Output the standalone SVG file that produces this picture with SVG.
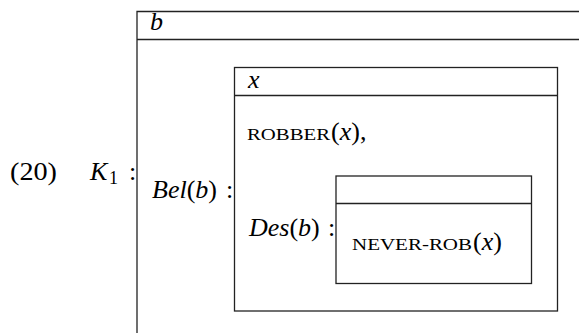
<svg xmlns="http://www.w3.org/2000/svg" width="579" height="333" viewBox="0 0 579 333">
<style>
  .ln{fill:none;stroke:#222;stroke-width:1.3}
  .t{font-family:"Liberation Serif","Times New Roman",serif;font-size:26px;fill:#000}
  .i{font-style:italic}
  .sc{font-size:17.5px}
  .sub{font-size:18px}
</style>
<rect width="579" height="333" fill="#fff"/>
<g id="label">
  <text class="t" x="10" y="180" textLength="47" lengthAdjust="spacingAndGlyphs">(20)</text>
  <text class="t" x="90" y="180"><tspan class="i">K</tspan><tspan class="sub" x="109" y="184">1</tspan><tspan x="129" y="180">:</tspan></text>
</g>
<g id="box-b">
  <path class="ln" d="M137,333 V11.5 H579 M137,39.5 H579"/>
  <text class="t i" x="150" y="30">b</text>
  <text class="t" x="152" y="198"><tspan class="i">Bel</tspan>(<tspan class="i">b</tspan>)<tspan x="226">:</tspan></text>
</g>
<g id="box-x">
  <rect class="ln" x="234.5" y="67.5" width="323" height="243.5"/>
  <path class="ln" d="M234.5,95.5 H557.5"/>
  <text class="t i" x="248" y="88">x</text>
  <text class="t sc" x="247" y="140" textLength="83" lengthAdjust="spacingAndGlyphs">ROBBER</text>
  <text class="t" x="331" y="140">(<tspan class="i">x</tspan>),</text>
  <text class="t" x="249" y="236"><tspan class="i">Des</tspan>(<tspan class="i">b</tspan>)<tspan x="328">:</tspan></text>
</g>
<g id="box-des">
  <rect class="ln" x="336" y="176" width="195.5" height="107.5"/>
  <path class="ln" d="M336,203.5 H531.5"/>
  <text class="t sc" x="352" y="250" textLength="120" lengthAdjust="spacingAndGlyphs">NEVER-ROB</text>
  <text class="t" x="473" y="250">(<tspan class="i">x</tspan>)</text>
</g>
<g id="connectors"></g>
</svg>
